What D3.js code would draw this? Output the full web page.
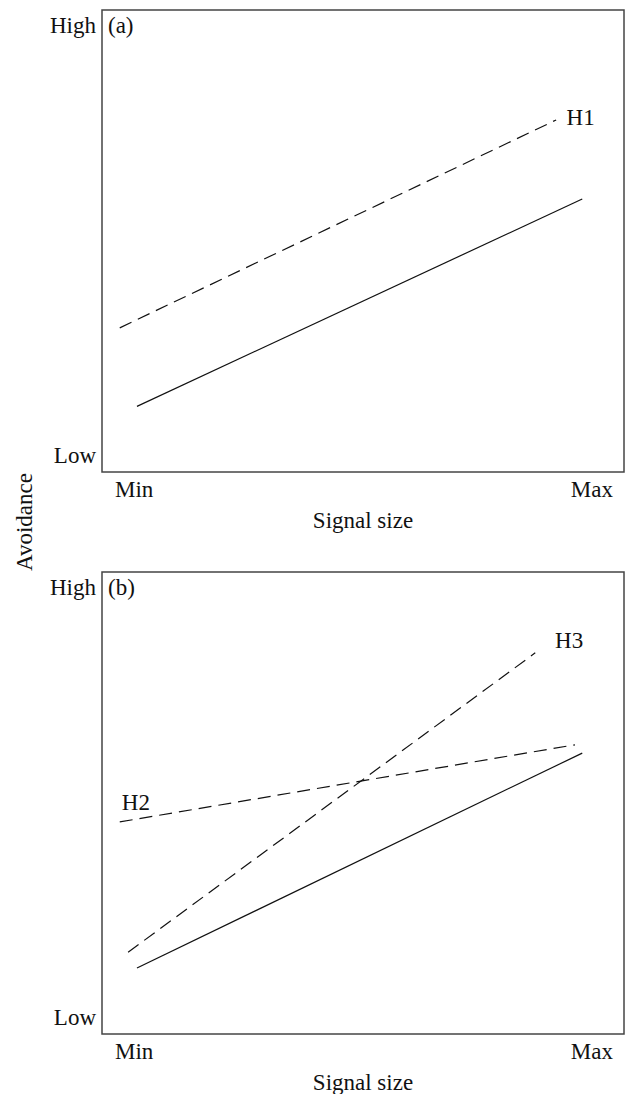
<!DOCTYPE html>
<html>
<head>
<meta charset="utf-8">
<script src="https://cdn.jsdelivr.net/npm/d3@7"></script>
<style>
  body { margin: 0; background: #fff; }
  text { font-family: "Liberation Serif", "DejaVu Serif", serif; fill: #111; font-size: 23px; }
</style>
</head>
<body>
<div id="chart"></div>
<script>
// values on a 0-10 scale (Min..Max, Low..High)
const panels = ["(a)", "(b)"];
const xTicks = ["Min", "Max"];
const yTicks = ["Low", "High"];

const solidA = [[0.67, 1.42], [9.2, 5.91]];
const h1 = [[0.34, 3.12], [8.7, 7.62]];
const solidB = [[0.67, 1.43], [9.2, 6.08]];
const h2 = [[0.34, 4.59], [9.06, 6.26]];
const h3 = [[0.5, 1.77], [8.3, 8.25]];

const seriesA = [
  { name: "", pts: solidA, dashed: false },
  { name: "H1", pts: h1, dashed: true, lab: [8.9, 7.51] }
];
const seriesB = [
  { name: "", pts: solidB, dashed: false },
  { name: "H2", pts: h2, dashed: true, lab: [0.38, 4.85] },
  { name: "H3", pts: h3, dashed: true, lab: [8.68, 8.35] }
];

const width = 628, height = 1094;
const svg = d3.select("#chart").append("svg").attr("width", width).attr("height", height);

const boxL = 102, boxR = 624, boxH = 462;
const x = d3.scaleLinear().domain([0, 10]).range([boxL, boxR]);

function drawPanel(top, label, series) {
  const y = d3.scaleLinear().domain([0, 10]).range([top + boxH, top]);
  const g = svg.append("g");

  g.append("rect")
    .attr("x", boxL).attr("y", top)
    .attr("width", boxR - boxL).attr("height", boxH)
    .attr("fill", "none").attr("stroke", "#444").attr("stroke-width", 1.5);

  g.append("text").attr("x", boxL + 6).attr("y", top + 23).text(label);

  // y end labels
  g.append("text").attr("x", boxL - 6).attr("y", y(10) + 23)
    .attr("text-anchor", "end").text(yTicks[1]);
  g.append("text").attr("x", boxL - 6).attr("y", y(0) - 9)
    .attr("text-anchor", "end").text(yTicks[0]);

  // x end labels
  g.append("text").attr("x", boxL + 13).attr("y", y(0) + 25).text(xTicks[0]);
  g.append("text").attr("x", boxR - 11).attr("y", y(0) + 25)
    .attr("text-anchor", "end").text(xTicks[1]);

  g.append("text").attr("x", (boxL + boxR) / 2).attr("y", y(0) + 56)
    .attr("text-anchor", "middle").text("Signal size");

  const line = d3.line().x(d => x(d[0])).y(d => y(d[1]));
  series.forEach(s => {
    g.append("path")
      .attr("d", line(s.pts))
      .attr("fill", "none")
      .attr("stroke", "#111")
      .attr("stroke-width", 1.2)
      .attr("stroke-dasharray", s.dashed ? "13,7" : null);
    if (s.name) {
      g.append("text").attr("x", x(s.lab[0])).attr("y", y(s.lab[1])).text(s.name);
    }
  });
}

drawPanel(10, panels[0], seriesA);
drawPanel(572, panels[1], seriesB);

svg.append("text")
  .attr("transform", "translate(32,522) rotate(-90)")
  .attr("text-anchor", "middle")
  .text("Avoidance");
</script>
</body>
</html>
